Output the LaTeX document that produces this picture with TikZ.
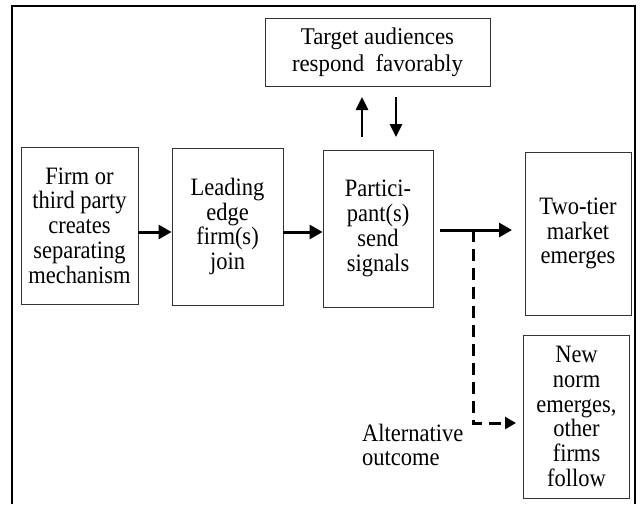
\documentclass[tikz,border=0pt]{standalone}
\usepackage{fontspec}
\setmainfont{Liberation Serif}[FakeStretch=0.9]
\newfontfamily\topfont{Liberation Serif}[FakeStretch=0.95]
\usetikzlibrary{arrows.meta}
\begin{document}
\begin{tikzpicture}[x=1pt,y=-1pt,
  box/.style={draw=black!80, line width=0.9pt, align=center, inner sep=0pt,
    font=\fontsize{25}{24.8}\selectfont},
  arr/.style={line width=3pt, -{Triangle[length=13pt,width=14pt]}},
  varr/.style={line width=2.6pt, -{Triangle[length=13pt,width=12pt]}},
  dsh/.style={line width=3pt, dash pattern=on 12pt off 7pt, -{Triangle[length=11pt,width=12pt]}},
  lbl/.style={align=left, inner sep=0pt, font=\fontsize{25}{24}\selectfont}
]
\useasboundingbox (0,0) rectangle (640,504);
\draw[line width=2pt] (12,504) -- (12,6) -- (635,6) -- (635,504);

\node[box, minimum width=225pt, minimum height=68pt, font=\topfont\fontsize{24}{27}\selectfont] (top) at (377.5,52) {Target audiences\\respond\ \ favorably};
\node[box, minimum width=117pt, minimum height=157pt] (b1) at (79.5,225.5) {Firm or\\third party\\creates\\separating\\mechanism};
\node[box, minimum width=111pt, minimum height=157pt] (b2) at (227.5,226.5) {Leading\\edge\\firm(s)\\join};
\node[box, minimum width=110pt, minimum height=157pt] (b3) at (378,228.5) {Partici-\\pant(s)\\send\\signals};
\node[box, minimum width=106pt, minimum height=163pt] (b4) at (578,233.5) {Two-tier\\market\\emerges};
\node[box, minimum width=106pt, minimum height=163pt] (b5) at (576.5,416.5) {New\\norm\\emerges,\\other\\firms\\follow};
\node[lbl, anchor=west] (alt) at (362,445) {Alternative\\outcome};

\coordinate (u1) at (362,137);
\coordinate (u2) at (362,97);
\coordinate (d1) at (396,97);
\coordinate (d2) at (396,137);
\coordinate (s3) at (440,230);
\coordinate (e3) at (512,230);
\coordinate (t3) at (473,230);
\coordinate (c3) at (473,423);
\coordinate (e5) at (516,423);

\draw[arr] ([yshift=-6.5pt]b1.east) -- ([yshift=-6.5pt]b1.east -| b2.west);
\draw[arr] ([yshift=-5.5pt]b2.east) -- ([yshift=-5.5pt]b2.east -| b3.west);
\draw[arr] (s3) -- (e3);
\draw[varr] (u1) -- (u2);
\draw[varr] (d1) -- (d2);
\draw[dsh] (t3) -- (c3) -- (e5);
\end{tikzpicture}
\end{document}
